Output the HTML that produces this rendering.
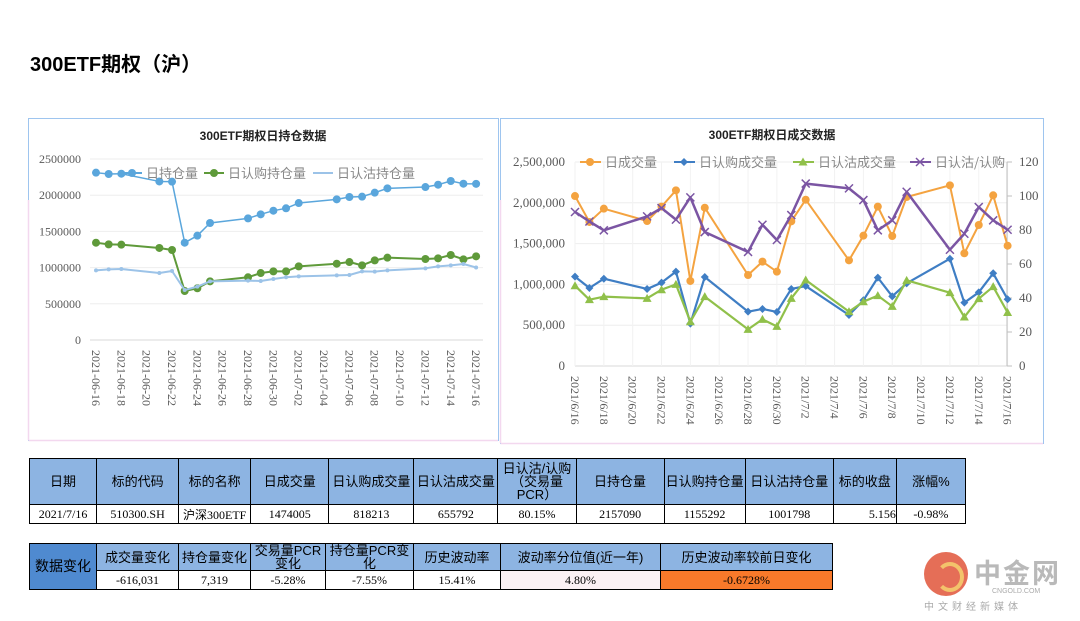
<!DOCTYPE html>
<html><head><meta charset="utf-8">
<style>
body{margin:0;width:1080px;height:621px;background:#fff;position:relative;overflow:hidden;font-family:"Liberation Serif","Noto Serif CJK SC",serif;}
#title{position:absolute;left:30px;top:48px;font:bold 20px "Liberation Sans","Noto Sans CJK SC",sans-serif;color:#000;}
svg{position:absolute;left:0;top:0;}
table{position:absolute;border-collapse:collapse;font-family:"Liberation Serif","Noto Sans CJK SC",serif;font-size:12px;table-layout:fixed;}
td{border:1px solid #000;text-align:center;padding:0;overflow:hidden;white-space:nowrap;}
.h td{background:#8db4e2;font-family:"Liberation Sans","Noto Sans CJK SC",sans-serif;font-size:13px;line-height:13px;}
.hd{background:#4f8ad0 !important;}
</style></head><body>
<div id="title">300ETF期权（沪）</div>
<svg id="s" width="1080" height="621"></svg>

<table style="left:29px;top:458px;width:937px;">
<colgroup><col style="width:67px"><col style="width:82px"><col style="width:72px"><col style="width:78px"><col style="width:85px"><col style="width:84px"><col style="width:78px"><col style="width:88px"><col style="width:81px"><col style="width:88px"><col style="width:63px"><col style="width:69px"></colgroup>
<tr class="h" style="height:46px"><td>日期</td><td>标的代码</td><td>标的名称</td><td>日成交量</td><td>日认购成交量</td><td>日认沽成交量</td><td style="white-space:normal">日认沽/认购（交易量PCR）</td><td>日持仓量</td><td>日认购持仓量</td><td>日认沽持仓量</td><td>标的收盘</td><td>涨幅%</td></tr>
<tr style="height:19px"><td>2021/7/16</td><td>510300.SH</td><td>沪深300ETF</td><td>1474005</td><td>818213</td><td>655792</td><td>80.15%</td><td>2157090</td><td>1155292</td><td>1001798</td><td style="text-align:right">5.156</td><td>-0.98%</td></tr>
</table>

<table style="left:29px;top:543px;width:804px;">
<colgroup><col style="width:67px"><col style="width:82px"><col style="width:72px"><col style="width:75px"><col style="width:88px"><col style="width:87px"><col style="width:160px"><col style="width:172px"></colgroup>
<tr class="h" style="height:27px"><td class="hd" rowspan="2" style="font-size:14px">数据变化</td><td>成交量变化</td><td>持仓量变化</td><td style="white-space:normal">交易量PCR变化</td><td style="white-space:normal">持仓量PCR变化</td><td>历史波动率</td><td>波动率分位值(近一年)</td><td>历史波动率较前日变化</td></tr>
<tr style="height:19px"><td>-616,031</td><td>7,319</td><td>-5.28%</td><td>-7.55%</td><td>15.41%</td><td style="background:#fbf1f4">4.80%</td><td style="background:#f8792a">-0.6728%</td></tr>
</table>

<div style="position:absolute;left:920px;top:548px;width:150px;height:65px;">
<div style="position:absolute;left:4px;top:4px;width:44px;height:44px;border-radius:50%;background:#e0553a;opacity:.85"></div>
<div style="position:absolute;left:16px;top:14px;width:20px;height:22px;border-radius:50%;border:4px solid #f3c36b;border-left-color:transparent"></div>
<div style="position:absolute;left:54px;top:4px;font:bold 27px 'Noto Sans CJK SC',sans-serif;color:#b9b9b9;letter-spacing:2px">中金网</div>
<div style="position:absolute;left:72px;top:40px;font:7px 'Liberation Sans',sans-serif;color:#aaa">CNGOLD.COM</div>
<div style="position:absolute;left:4px;top:50px;font:10px 'Noto Sans CJK SC',sans-serif;color:#aaa;letter-spacing:4px">中文财经新媒体</div>
</div>

<script>
const dayOffsets=[0,1,2,5,6,7,8,9,12,13,14,15,16,19,20,21,22,23,26,27,28,29,30];
const totalOI=[2311000,2293000,2297000,2190000,2187000,1344000,1441000,1616000,1680000,1736000,1786000,1819000,1892000,1943000,1975000,1980000,2035000,2095000,2113000,2145000,2196000,2159000,2157090];
const callOI=[1344000,1321000,1317000,1271000,1243000,677000,714000,810000,866000,925000,948000,948000,1017000,1054000,1077000,1031000,1100000,1137000,1119000,1128000,1174000,1114000,1155292];
const putOI=[962000,976000,981000,925000,953000,690000,737000,810000,820000,815000,843000,866000,879000,893000,898000,948000,944000,962000,990000,1017000,1031000,1050000,1001798];
const volTotal=[2083000,1765000,1928000,1777000,1953000,2153000,1042000,1940000,1115000,1279000,1156000,1773000,2038000,1295000,1597000,1953000,1593000,2071000,2214000,1381000,1728000,2092000,1474005];
const volCall=[1095000,956000,1070000,944000,1021000,1156000,519000,1091000,666000,699000,662000,944000,980000,625000,805000,1083000,854000,1013000,1315000,776000,903000,1136000,818213];
const volPut=[984000,813000,850000,829000,935000,1000000,543000,850000,449000,572000,486000,829000,1054000,666000,788000,862000,731000,1050000,899000,600000,825000,972000,655792];
const pcr=[90.6,85,79.8,88,92.9,86.1,99.2,78.8,67.1,83.1,74.1,88.8,107.3,104.5,97.6,79.8,85.7,102.5,68.4,77.8,93.5,85.7,80.15];
const leftTicks=["0","500000","1000000","1500000","2000000","2500000"];
const rightTicksL=["0","500,000","1,000,000","1,500,000","2,000,000","2,500,000"];
const rightTicksR=["0","20","40","60","80","100","120"];
const leftDates=["2021-06-16","2021-06-18","2021-06-20","2021-06-22","2021-06-24","2021-06-26","2021-06-28","2021-06-30","2021-07-02","2021-07-04","2021-07-06","2021-07-08","2021-07-10","2021-07-12","2021-07-14","2021-07-16"];
const rightDates=["2021/6/16","2021/6/18","2021/6/20","2021/6/22","2021/6/24","2021/6/26","2021/6/28","2021/6/30","2021/7/2","2021/7/4","2021/7/6","2021/7/8","2021/7/10","2021/7/12","2021/7/14","2021/7/16"];

const S=document.getElementById('s'),NS='http://www.w3.org/2000/svg';
function el(t,a,p){const e=document.createElementNS(NS,t);for(const k in a)e.setAttribute(k,a[k]);(p||S).appendChild(e);return e;}
function txt(x,y,s,a){const e=el('text',Object.assign({x:x,y:y,'font-size':12,fill:'#595959','font-family':'"Liberation Serif","Noto Serif CJK SC",serif'},a||{}));e.textContent=s;return e;}
function line(pts,color,w){return el('polyline',{points:pts.map(p=>p.join(',')).join(' '),fill:'none',stroke:color,'stroke-width':w,'stroke-linejoin':'round'});}
function marker(type,x,y,c){
 if(type==='circle')return el('circle',{cx:x,cy:y,r:4,fill:c});
 if(type==='sc')return el('circle',{cx:x,cy:y,r:2,fill:c});
 if(type==='diamond')return el('polygon',{points:`${x},${y-4} ${x+4},${y} ${x},${y+4} ${x-4},${y}`,fill:c});
 if(type==='tri')return el('polygon',{points:`${x},${y-4.5} ${x+4.5},${y+3.5} ${x-4.5},${y+3.5}`,fill:c});
 if(type==='x')return el('path',{d:`M${x-4},${y-4}L${x+4},${y+4}M${x+4},${y-4}L${x-4},${y+4}`,stroke:c,'stroke-width':1.5});
}
function series(name,vals,xf,yf,color,w,mk){
 const g=el('g',{});
 
 
 const pts=vals.map((v,i)=>[xf(dayOffsets[i]),yf(v)]);
 g.appendChild(line(pts,color,w));
 pts.forEach(p=>{const m=marker(mk,p[0],p[1],color);g.appendChild(m);});
}

// panels
const p1=el('rect',{x:28.5,y:118.5,width:470,height:322,fill:'#fff',stroke:'#9ec5ef','stroke-width':1});

el('line',{x1:28.5,y1:200,x2:28.5,y2:440,stroke:'#f3d8ef','stroke-width':1.5});
el('line',{x1:28.5,y1:440.5,x2:498,y2:440.5,stroke:'#f3d8ef','stroke-width':1.5});
const p2=el('rect',{x:500.5,y:118.5,width:543,height:325,fill:'#fff',stroke:'#9ec5ef','stroke-width':1});

el('line',{x1:500.5,y1:200,x2:500.5,y2:443,stroke:'#f3d8ef','stroke-width':1.5});
el('line',{x1:500.5,y1:443.5,x2:1043,y2:443.5,stroke:'#f3d8ef','stroke-width':1.5});

// LEFT CHART
const lx=d=>96+d*12.67, ly=v=>340-v/2500000*181;
txt(263,140,'300ETF期权日持仓数据',{'text-anchor':'middle','font-weight':'bold','font-size':12,fill:'#222','font-family':'"Liberation Sans","Noto Sans CJK SC",sans-serif'});
leftTicks.forEach((t,i)=>{const v=i*500000;el('line',{x1:90,x2:483,y1:ly(v),y2:ly(v),stroke:i?'#eeeeee':'#d9d9d9'});
 const e=txt(81,ly(v)+4,t,{'text-anchor':'end'});});
leftDates.forEach((t,i)=>{const x=lx(i*2);const e=txt(0,0,t,{transform:`translate(${x-4},350) rotate(90)`});});
series('total-oi-line',totalOI,lx,ly,'#5aa6dc',1.5,'circle');
series('call-oi-line',callOI,lx,ly,'#5f9a3a',2,'circle');
series('put-oi-line',putOI,lx,ly,'#9cc3e8',2,'sc');
// left legend
[['日持仓量','#5aa6dc',122,'circle'],['日认购持仓量','#5f9a3a',204,'circle'],['日认沽持仓量','#9cc3e8',313,'none']].forEach(([n,c,x,m])=>{
 const g=el('g',{});
 g.appendChild(el('line',{x1:x,x2:x+20,y1:173,y2:173,stroke:c,'stroke-width':2}));
 if(m!=='none')g.appendChild(marker(m,x+10,173,c));
 g.appendChild(txt(x+24,178,n,{'font-size':13,fill:'#888','font-family':'"Noto Sans CJK SC",sans-serif'}));
});

// RIGHT CHART
const rx=d=>575+d*14.42, ry=v=>366-v/2500000*204, ry2=v=>366-v/120*204;
txt(772,139,'300ETF期权日成交数据',{'text-anchor':'middle','font-weight':'bold','font-size':12,fill:'#222','font-family':'"Liberation Sans","Noto Sans CJK SC",sans-serif'});
rightTicksL.forEach((t,i)=>{const v=i*500000;el('line',{x1:575,x2:1007,y1:ry(v),y2:ry(v),stroke:i?'#eeeeee':'#d9d9d9'});
 const e=txt(565,ry(v)+4,t,{'text-anchor':'end','font-size':13});});
rightDates.forEach((t,i)=>{const x=rx(i*2);el('line',{x1:x,x2:x,y1:162,y2:366,stroke:'#f2f2f2'});
 const e=txt(0,0,t,{transform:`translate(${x-4},376) rotate(90)`});});
el('line',{x1:1007,x2:1007,y1:162,y2:366,stroke:'#bfbfbf'});
rightTicksR.forEach((t,i)=>{const v=i*20;el('line',{x1:1007,x2:1012,y1:ry2(v),y2:ry2(v),stroke:'#bfbfbf'});
 const e=txt(1019,ry2(v)+4,t,{'font-size':13});});
series('volume-line',volTotal,rx,ry,'#f4a340',2,'circle');
series('call-volume-line',volCall,rx,ry,'#3f7ec4',2.2,'diamond');
series('put-volume-line',volPut,rx,ry,'#90c04a',2.2,'tri');
series('pcr-line',pcr,rx,ry2,'#7b55a3',2.5,'x');
[['日成交量','#f4a340',580,'circle'],['日认购成交量','#3f7ec4',674,'diamond'],['日认沽成交量','#90c04a',793,'tri'],['日认沽/认购','#7b55a3',910,'x']].forEach(([n,c,x,m])=>{
 const g=el('g',{});
 g.appendChild(el('line',{x1:x,x2:x+21,y1:162,y2:162,stroke:c,'stroke-width':2}));
 g.appendChild(marker(m,x+10,162,c));
 g.appendChild(txt(x+25,167,n,{'font-size':13,fill:'#888','font-family':'"Noto Sans CJK SC",sans-serif'}));
});
</script>
</body></html>
